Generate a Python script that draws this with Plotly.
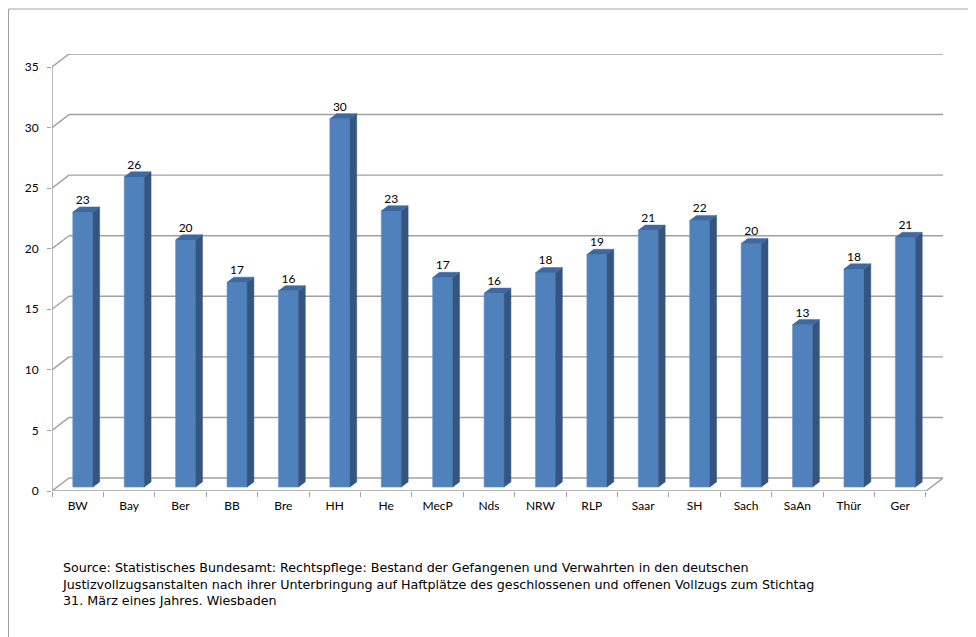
import plotly.graph_objects as go

# ---- data ----
categories = ["BW", "Bay", "Ber", "BB", "Bre", "HH", "He", "MecP", "Nds", "NRW",
              "RLP", "Saar", "SH", "Sach", "SaAn", "Thür", "Ger"]
values = [22.7, 25.6, 20.4, 16.9, 16.2, 30.4, 22.8, 17.3, 16.0, 17.7,
          19.2, 21.2, 22.0, 20.1, 13.4, 18.0, 20.6]
y_ticks = [0, 5, 10, 15, 20, 25, 30, 35]
source_lines = [
    "Source: Statistisches Bundesamt: Rechtspflege: Bestand der Gefangenen und Verwahrten in den deutschen",
    "Justizvollzugsanstalten nach ihrer Unterbringung auf Haftplätze des geschlossenen und offenen Vollzugs zum Stichtag",
    "31. März eines Jahres. Wiesbaden",
]

# ---- 3D styling (depth of the chart, in axis units) ----
DX, DY = 0.331, 1.073          # wall depth offset
F_FRONT, F_BACK = 0.3, 0.7     # bar front / back depth fraction
BAR_W = 0.39
FRONT_COL, SIDE_COL, TOP_COL = "#4F81BD", "#34557F", "#3E68A1"
GRID_COL = "#A0A0A0"
LABEL_FONT = "Lato, Liberation Sans, sans-serif"

n = len(categories)
xmin, xmax = -0.5, n - 0.5
ymax = y_ticks[-1]

fig = go.Figure()

# back wall gridlines + depth connectors (behind the bars)
shapes = []
for t in y_ticks:
    shapes.append(dict(type="line", xref="x", yref="y", layer="below",
                       x0=xmin, y0=t, x1=xmin + DX, y1=t + DY,
                       line=dict(color=GRID_COL, width=1.4)))
    shapes.append(dict(type="line", xref="x", yref="y", layer="below",
                       x0=xmin + DX, y0=t + DY, x1=xmax + DX, y1=t + DY,
                       line=dict(color=GRID_COL, width=1.4)))
shapes.append(dict(type="line", xref="x", yref="y", layer="below",
                   x0=xmax, y0=0, x1=xmax + DX, y1=DY,
                   line=dict(color=GRID_COL, width=1.4)))

# front axis line and front floor edge
lx = [xmin, xmin, None, xmin, xmax]
ly = [0, ymax, None, 0, 0]
fig.add_trace(go.Scatter(x=lx, y=ly, mode="lines", cliponaxis=False,
                         line=dict(color=GRID_COL, width=1.4), hoverinfo="skip",
                         showlegend=False))

sx0, sy0 = F_FRONT * DX, F_FRONT * DY
ddx, ddy = (F_BACK - F_FRONT) * DX, (F_BACK - F_FRONT) * DY
centers = [i + sx0 for i in range(n)]

# front faces
fig.add_trace(go.Bar(x=centers, y=values, base=sy0, width=BAR_W,
                     marker=dict(color=FRONT_COL, line=dict(color="#6E95C8", width=0.6)),
                     showlegend=False, hoverinfo="skip"))

# side and top faces
px_, py_, tx_, ty_ = [], [], [], []
for c, v in zip(centers, values):
    xr, xl = c + BAR_W / 2, c - BAR_W / 2
    px_ += [xr, xr + ddx, xr + ddx, xr, xr, None]
    py_ += [sy0, sy0 + ddy, sy0 + v + ddy, sy0 + v, sy0, None]
    tx_ += [xl, xl + ddx, xr + ddx, xr, xl, None]
    ty_ += [sy0 + v, sy0 + v + ddy, sy0 + v + ddy, sy0 + v, sy0 + v, None]
fig.add_trace(go.Scatter(x=px_, y=py_, mode="lines", fill="toself", fillcolor=SIDE_COL,
                         line=dict(color=SIDE_COL, width=0.5), cliponaxis=False,
                         hoverinfo="skip", showlegend=False))
fig.add_trace(go.Scatter(x=tx_, y=ty_, mode="lines", fill="toself", fillcolor=TOP_COL,
                         line=dict(color=TOP_COL, width=0.5), cliponaxis=False,
                         hoverinfo="skip", showlegend=False))

# data labels
fig.add_trace(go.Scatter(x=centers, y=[sy0 + v + ddy for v in values], mode="text",
                         text=[f"{v:.0f}" for v in values], textposition="top center",
                         textfont=dict(family=LABEL_FONT, size=12, color="#000"),
                         cliponaxis=False, hoverinfo="skip", showlegend=False))

# page geometry (figure pixels)
L, T, PW, PH = 44, 46, 891, 437
W, H = 976, 637

def px_to_paper_x(p):
    return (p - L) / PW

def px_to_paper_y(p):
    return (T + PH - p) / PH

shapes += [
    dict(type="line", xref="paper", yref="paper",
         x0=px_to_paper_x(0.5), x1=px_to_paper_x(0.5), y0=px_to_paper_y(1), y1=px_to_paper_y(H),
         line=dict(color="#A0A0A0", width=1)),
    dict(type="line", xref="paper", yref="paper",
         x0=px_to_paper_x(0.5), x1=px_to_paper_x(W), y0=px_to_paper_y(1), y1=px_to_paper_y(1),
         line=dict(color="#A0A0A0", width=1)),
]

fig.update_layout(
    width=W, height=H,
    margin=dict(l=L, r=W - L - PW, t=T, b=H - T - PH),
    paper_bgcolor="white", plot_bgcolor="rgba(0,0,0,0)",
    barmode="overlay",
    font=dict(family=LABEL_FONT, size=12, color="#000"),
    xaxis=dict(range=[xmin, xmax + DX], showgrid=False, zeroline=False, showline=False,
               tickmode="array", tickvals=list(range(n)), ticktext=categories, ticks="",
               ticklabelstandoff=6,
               minor=dict(tickmode="array", tickvals=[i - 0.5 for i in range(n + 1)],
                          ticks="outside", ticklen=5, tickcolor=GRID_COL, tickwidth=1.2)),
    yaxis=dict(range=[0, ymax + DY], showgrid=False, zeroline=False, showline=False,
               tickmode="array", tickvals=y_ticks, ticks="outside", ticklen=4,
               tickcolor=GRID_COL, tickwidth=1.2, ticklabelstandoff=6),
    annotations=[dict(xref="paper", yref="paper", x=px_to_paper_x(52), y=px_to_paper_y(550),
                      xanchor="left", yanchor="top", align="left", showarrow=False,
                      text="<br>".join(source_lines),
                      font=dict(family="DejaVu Sans", size=12.7, color="#000"))],
    shapes=shapes,
)

fig.write_html("out.html")
